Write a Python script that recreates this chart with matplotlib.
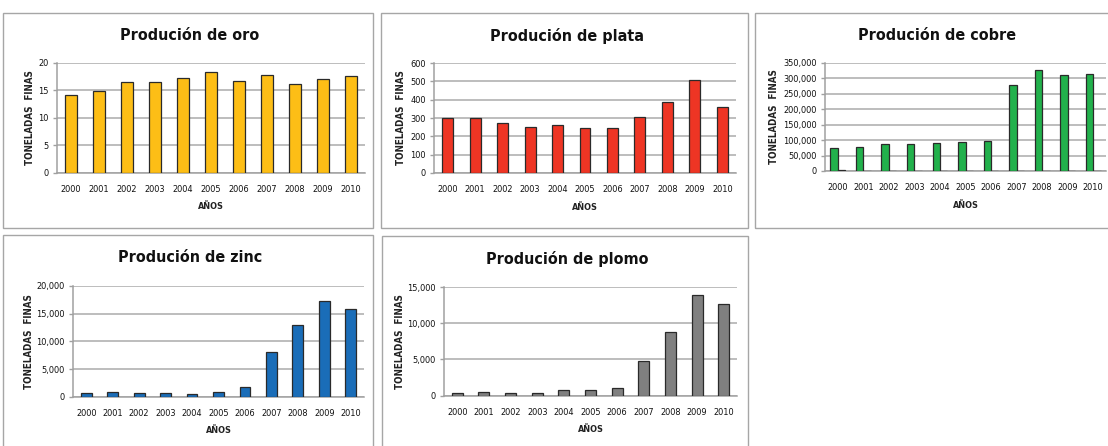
import matplotlib
matplotlib.use("Agg")
import matplotlib.pyplot as plt
from matplotlib.patches import Rectangle
from matplotlib.ticker import FuncFormatter, MultipleLocator

# ---- data (toneladas finas por año) ----
anios = ["2000", "2001", "2002", "2003", "2004", "2005",
         "2006", "2007", "2008", "2009", "2010"]
oro = [14.2, 14.9, 16.5, 16.5, 17.3, 18.4, 16.7, 17.7, 16.2, 17.0, 17.5]
plata = [300, 300, 271, 253, 264, 244, 244, 308, 387, 510, 358]
cobre = [73000, 79000, 88000, 88000, 91000, 93000, 97000,
         277000, 326000, 309000, 314000]
cobre_serie2 = [4000, 0, 0, 0, 0, 0, 0, 0, 0, 0, 0]
zinc = [700, 800, 700, 700, 550, 850, 1700, 8000, 12900, 17200, 15800]
plomo = [400, 500, 400, 400, 750, 750, 1000, 4800, 8800, 13900, 12600]

titulos = ["Produción de oro", "Produción de plata", "Produción de cobre",
           "Produción de zinc", "Produción de plomo"]
ylabel = "TONELADAS  FINAS"
xlabel = "AÑOS"

W, H = 1108, 446
fig = plt.figure(figsize=(W / 100, H / 100), dpi=100)
fig.patch.set_facecolor("white")

FONT = ["DejaVu Sans"]
STRETCH = "condensed"


def fx(x):
    return x / W


def fy(y):
    return 1 - y / H


def frame(x0, y0, x1, y1):
    fig.patches.append(Rectangle((fx(x0), fy(y1)), fx(x1 - x0), (y1 - y0) / H,
                                 transform=fig.transFigure, fill=False,
                                 edgecolor="#A6A6A6", linewidth=1.0))


def panel(box, plot, title, series, colors, ymax, step, width, thousands,
          offsets=None):
    bx0, by0, bx1, by1 = box
    frame(bx0, by0, bx1, by1)
    left, right, top, bottom = plot
    ax = fig.add_axes([fx(left), fy(bottom), fx(right - left), (bottom - top) / H])
    x = list(range(len(anios)))
    if offsets is None:
        offsets = [0.0] * len(series)
    for vals, col, off in zip(series, colors, offsets):
        ax.bar([i + off for i in x], vals, width=width, color=col,
               edgecolor="#2a2a2a", linewidth=0.9, zorder=3)
    ax.set_xlim(-0.5, len(anios) - 0.5)
    ax.set_ylim(0, ymax)
    ax.yaxis.set_major_locator(MultipleLocator(step))
    if thousands:
        ax.yaxis.set_major_formatter(FuncFormatter(lambda v, p: f"{int(v):,}"))
    else:
        ax.yaxis.set_major_formatter(FuncFormatter(lambda v, p: f"{int(v)}"))
    ax.set_xticks(x)
    ax.set_xticklabels(anios)
    ax.grid(axis="y", color="#B8B8B8", linewidth=1.3, zorder=0)
    ax.set_axisbelow(True)
    for s in ("top", "right"):
        ax.spines[s].set_visible(False)
    for s in ("left", "bottom"):
        ax.spines[s].set_color("#A0A0A0")
        ax.spines[s].set_linewidth(1.1)
    ax.tick_params(axis="x", length=0, pad=9, labelsize=6.6, labelcolor="#111111")
    ax.tick_params(axis="y", length=3, width=1, color="#A0A0A0", pad=3,
                   labelsize=6.6, labelcolor="#111111")
    for lab in ax.get_xticklabels() + ax.get_yticklabels():
        lab.set_family(FONT)
        lab.set_stretch(STRETCH)
    cx = (bx0 + bx1) / 2 + 2
    fig.text(fx(cx), fy(by0 + 23), title, ha="center", va="center",
             fontsize=11.5, fontweight="bold", family=FONT, fontstretch=STRETCH,
             color="#111111")
    fig.text(fx((left + right) / 2), fy(bottom + 34), xlabel, ha="center",
             va="center", fontsize=6.5, fontweight="bold", family=FONT,
             fontstretch=STRETCH, color="#222222")
    return ax


def ylab(x, top, bottom):
    fig.text(fx(x), fy((top + bottom) / 2), ylabel, rotation=90, ha="center",
             va="center", fontsize=7.0, fontweight="bold", family=FONT,
             fontstretch=STRETCH, color="#222222")


panel((3, 13, 373, 228), (57, 365, 62.7, 172.7), titulos[0], [oro],
      ["#FDBE16"], 20, 5, 0.41, False)
ylab(30, 62.7, 172.7)

panel((381, 13, 748, 228), (434, 736, 63, 173), titulos[1], [plata],
      ["#EE3524"], 600, 100, 0.40, False)
ylab(401, 63, 173)

panel((755, 13, 1115, 228), (825, 1106, 62.7, 171), titulos[2],
      [cobre, cobre_serie2], ["#22B14C", "#22B14C"], 350000, 50000, 0.29, True,
      offsets=[-0.145, 0.145])
ylab(774, 62.7, 171)

panel((3, 235, 373, 452), (73, 364, 286, 396.7), titulos[3], [zinc],
      ["#1A6DB8"], 20000, 5000, 0.41, True)
ylab(29, 286, 396.7)

panel((382, 236, 748, 452), (444, 737, 287, 395.7), titulos[4], [plomo],
      ["#808080"], 15000, 5000, 0.41, True)
ylab(400, 287, 395.7)

fig.savefig("out.png", dpi=100, facecolor="white")
